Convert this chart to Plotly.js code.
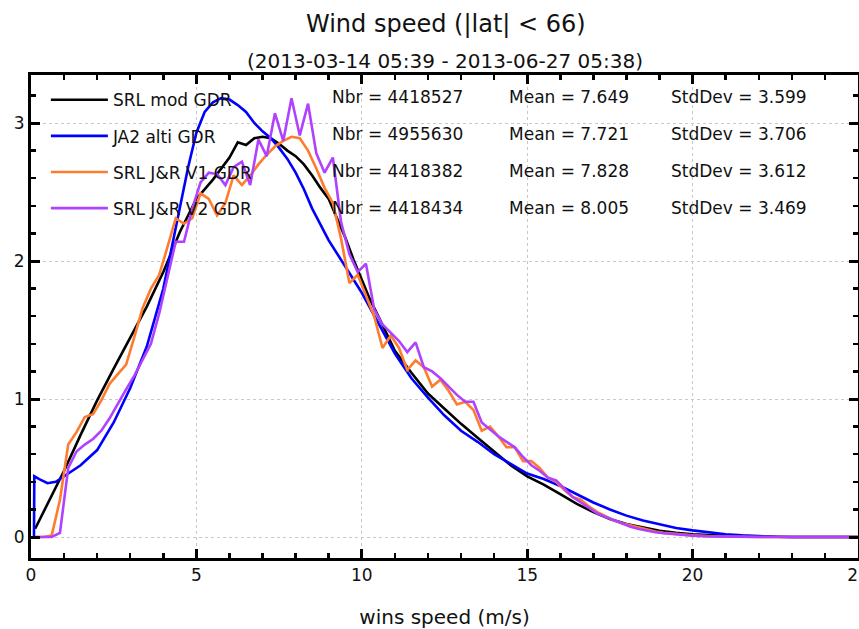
<!DOCTYPE html>
<html>
<head>
<meta charset="utf-8">
<script src="https://cdn.plot.ly/plotly-3.0.1.min.js"></script>
<style>html,body{margin:0;padding:0;background:#fff;}#chart{width:859px;height:629px;}</style>
</head>
<body>
<div id="chart"></div>
<script>
// ---- data ----
const seriesNames = ["SRL mod GDR", "JA2 alti GDR", "SRL J&R V1 GDR", "SRL J&R V2 GDR"];
const seriesNbr = ["4418527", "4955630", "4418382", "4418434"];
const seriesMean = ["7.649", "7.721", "7.828", "8.005"];
const seriesStd = ["3.599", "3.706", "3.612", "3.469"];

const srlModX = [0.125,0.5,1,1.5,2,2.5,3,3.5,4,4.5,5,5.5,6,6.25,6.5,6.75,7,7.25,7.5,7.75,8,8.25,8.5,8.75,9,9.25,9.5,9.75,10,10.25,10.5,10.75,11,11.5,12,12.5,13,13.5,14,14.5,15,15.5,16,16.5,17,17.5,18,18.5,19,19.5,20,21,22,23,25];
const srlModY = [0.06,0.24,0.48,0.74,0.99,1.22,1.44,1.67,1.92,2.21,2.45,2.59,2.75,2.86,2.84,2.89,2.90,2.89,2.85,2.80,2.76,2.70,2.62,2.53,2.45,2.31,2.17,2.01,1.87,1.72,1.60,1.48,1.35,1.19,1.04,0.93,0.82,0.72,0.62,0.52,0.44,0.38,0.31,0.24,0.18,0.13,0.095,0.07,0.045,0.03,0.02,0.008,0.003,0,0];

const ja2X = [0.09,0.1,0.25,0.5,0.75,1,1.5,2,2.5,3,3.5,4,4.25,4.5,4.75,5,5.25,5.5,5.75,6,6.25,6.5,6.75,7,7.25,7.5,7.75,8,8.25,8.5,8.75,9,9.5,10,10.5,11,11.5,12,12.5,13,13.5,14,14.5,15,15.5,16,16.5,17,17.5,18,18.5,19,19.5,20,20.5,21,21.5,22,22.5,23,25];
const ja2Y = [0,0.44,0.42,0.39,0.40,0.44,0.52,0.63,0.83,1.08,1.38,1.80,2.10,2.40,2.68,2.93,3.08,3.15,3.18,3.17,3.13,3.08,3.00,2.94,2.89,2.82,2.74,2.64,2.52,2.38,2.26,2.15,1.96,1.77,1.55,1.33,1.15,1.01,0.88,0.77,0.69,0.60,0.53,0.46,0.42,0.37,0.31,0.25,0.20,0.155,0.12,0.09,0.065,0.048,0.033,0.02,0.012,0.006,0.002,0,0];

const binX = [0.125,0.375,0.625,0.875,1.125,1.375,1.625,1.875,2.125,2.375,2.625,2.875,3.125,3.375,3.625,3.875,4.125,4.375,4.625,4.875,5.125,5.375,5.625,5.875,6.125,6.375,6.625,6.875,7.125,7.375,7.625,7.875,8.125,8.375,8.625,8.875,9.125,9.375,9.625,9.875,10.125,10.375,10.625,10.875,11.125,11.375,11.625,11.875,12.125,12.375,12.625,12.875,13.125,13.375,13.625,13.875,14.125,14.375,14.625,14.875,15.125,15.375,15.625,15.875,16.125,16.375,16.625,16.875,17.125,17.375,17.625,17.875,18.125,18.375,18.625,18.875,19.125,19.5,20,20.5,21,22,25];

const jrV1Y = [0,0,0.01,0.27,0.67,0.76,0.87,0.89,0.99,1.11,1.18,1.25,1.45,1.66,1.80,1.90,2.10,2.31,2.27,2.31,2.49,2.45,2.33,2.42,2.62,2.55,2.62,2.70,2.77,2.83,2.87,2.90,2.89,2.80,2.67,2.53,2.42,2.16,1.84,1.90,1.75,1.60,1.37,1.46,1.37,1.21,1.28,1.23,1.09,1.14,1.06,0.96,0.98,0.92,0.77,0.80,0.73,0.65,0.65,0.55,0.55,0.50,0.43,0.40,0.34,0.29,0.27,0.22,0.18,0.15,0.12,0.10,0.085,0.065,0.05,0.04,0.03,0.02,0.012,0.006,0.003,0,0];

const jrV2Y = [0,0,0,0.03,0.50,0.62,0.67,0.71,0.77,0.86,0.97,1.07,1.17,1.28,1.40,1.62,1.88,2.14,2.14,2.38,2.57,2.64,2.63,2.55,2.68,2.72,2.55,2.88,2.76,3.07,2.87,3.18,2.91,3.14,2.78,2.64,2.75,2.28,2.05,1.92,1.98,1.65,1.54,1.48,1.42,1.34,1.41,1.23,1.20,1.15,1.09,1.03,0.98,0.98,0.83,0.78,0.73,0.69,0.65,0.58,0.52,0.48,0.43,0.41,0.35,0.29,0.25,0.21,0.17,0.145,0.12,0.095,0.075,0.058,0.045,0.035,0.027,0.018,0.01,0.005,0.002,0,0];

const xTickVals = [0,5,10,15,20,25];
const xTickText = ["0","5","10","15","20","25"];
const yTickVals = [0,1,2,3];
const yTickText = ["0","1","2","3"];

const colors = ["#000000", "#0000ff", "#ff7b2e", "#b041ff"];

// ---- figure ----
const xs = [srlModX, ja2X, binX, binX];
const ys = [srlModY, ja2Y, jrV1Y, jrV2Y];
const traces = seriesNames.map((n, i) => ({
  x: xs[i], y: ys[i], name: n, type: "scatter", mode: "lines",
  legendgroup: "g" + i,
  line: {color: colors[i], width: 2.6}
}));

const FONT = "DejaVu Sans, sans-serif";
const annotations = [{
  text: "(2013-03-14 05:39 - 2013-06-27 05:38)",
  xref: "paper", yref: "paper", x: 0.5, y: 1.029, xanchor: "center", yanchor: "middle",
  showarrow: false, font: {family: FONT, size: 20, color: "#111"}
}];
const rowY = [0.954, 0.878, 0.801, 0.725];
seriesNames.forEach((n, i) => {
  annotations.push({text: "Nbr = " + seriesNbr[i], xref: "paper", yref: "paper", x: 0.362, y: rowY[i], xanchor: "left", yanchor: "middle", showarrow: false, font: {family: FONT, size: 17, color: "#111"}});
  annotations.push({text: "Mean = " + seriesMean[i], xref: "paper", yref: "paper", x: 0.575, y: rowY[i], xanchor: "left", yanchor: "middle", showarrow: false, font: {family: FONT, size: 17, color: "#111"}});
  annotations.push({text: "StdDev = " + seriesStd[i], xref: "paper", yref: "paper", x: 0.772, y: rowY[i], xanchor: "left", yanchor: "middle", showarrow: false, font: {family: FONT, size: 17, color: "#111"}});
});

const axisCommon = {
  showline: true, linecolor: "#000", linewidth: 3, mirror: "allticks",
  ticks: "inside", ticklen: 9, tickwidth: 3, tickcolor: "#000",
  showgrid: true, gridcolor: "#c8c8c8", gridwidth: 1, griddash: "3px,3px",
  zeroline: false, tickfont: {family: FONT, size: 17, color: "#111"},
  tickmode: "array", ticklabeloverflow: "allow"
};

const layout = {
  width: 859, height: 629,
  margin: {l: 31, r: 1, t: 75, b: 71},
  paper_bgcolor: "#fff", plot_bgcolor: "#fff",
  font: {family: FONT, color: "#111"},
  title: {text: "Wind speed (|lat| < 66)", x: 0.519, xanchor: "center", y: 0.962, yanchor: "middle", yref: "container", font: {family: FONT, size: 24, color: "#111"}},
  xaxis: Object.assign({}, axisCommon, {
    range: [0, 25], tickvals: xTickVals, ticktext: xTickText,
    minor: {dtick: 1, ticks: "inside", ticklen: 5, tickwidth: 2.5, tickcolor: "#000", showgrid: false},
    title: {text: "wins speed (m/s)", font: {family: FONT, size: 20, color: "#111"}, standoff: 31}
  }),
  yaxis: Object.assign({}, axisCommon, {
    range: [-0.152, 3.348], tickvals: yTickVals, ticktext: yTickText,
    minor: {dtick: 0.2, tick0: 0, ticks: "inside", ticklen: 5, tickwidth: 2.5, tickcolor: "#000", showgrid: false}
  }),
  showlegend: true,
  legend: {x: 0.018, y: 0.985, xanchor: "left", yanchor: "top", bgcolor: "rgba(0,0,0,0)",
    font: {family: FONT, size: 17, color: "#111"}, tracegroupgap: 11, itemwidth: 57},
  annotations: annotations
};

Plotly.newPlot("chart", traces, layout, {displayModeBar: false, staticPlot: true});
</script>
</body>
</html>
